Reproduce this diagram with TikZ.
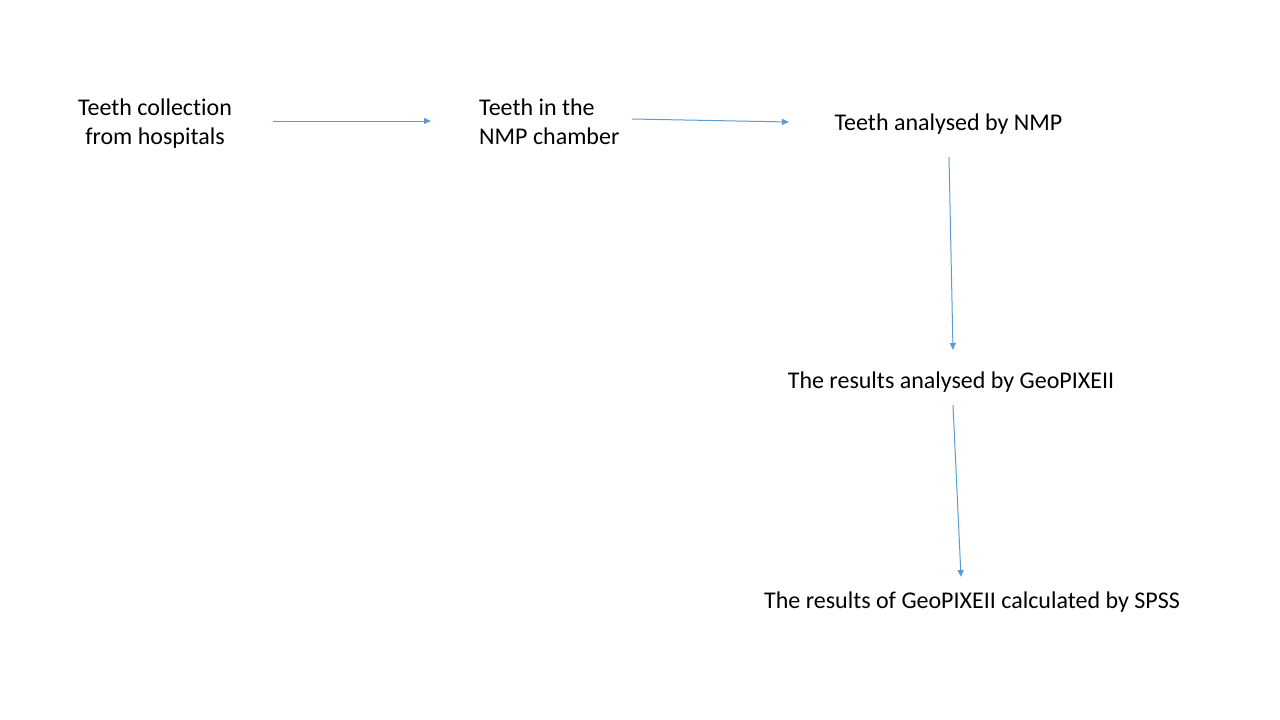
\documentclass[tikz,border=0pt]{standalone}
\usepackage{fontspec}
\setmainfont[Ligatures={NoCommon}]{Carlito}
\usetikzlibrary{arrows.meta}

\definecolor{flowblue}{RGB}{91,155,213}

\begin{document}
\begin{tikzpicture}[x=1pt, y=-1pt,
	step text/.style={inner sep=0pt, font=\fontsize{24}{29}\selectfont},
	flow/.style={draw=flowblue, line width=1pt, -{Triangle[length=7pt,width=6pt]}}]
		\useasboundingbox (0,0) rectangle (1280,720);
		% steps of the procedure
		\node[step text, align=center] (collect) at (155,124) {Teeth collection\\from hospitals};
		\node[step text, align=left, anchor=west] (chamber) at (479,122) {Teeth in the\\NMP chamber};
		\node[step text] (nmp) at (948.5,124) {Teeth analysed by NMP};
		\node[step text] (geopixe) at (951,382) {The results analysed by GeoPIXEII};
		\node[step text] (spss) at (972,602) {The results of GeoPIXEII calculated by SPSS};
		% arrow ends
		\coordinate (a1) at (273,121);
		\coordinate (a2) at (431,121);
		\coordinate (b1) at (632,119);
		\coordinate (b2) at (789,122);
		\coordinate (c1) at (949,157);
		\coordinate (c2) at (953,350);
		\coordinate (d1) at (953,405);
		\coordinate (d2) at (961,577);
		\draw[flow] (a1) -- (a2);
		\draw[flow] (b1) -- (b2);
		\draw[flow] (c1) -- (c2);
		\draw[flow] (d1) -- (d2);
		\end{tikzpicture}
\end{document}
